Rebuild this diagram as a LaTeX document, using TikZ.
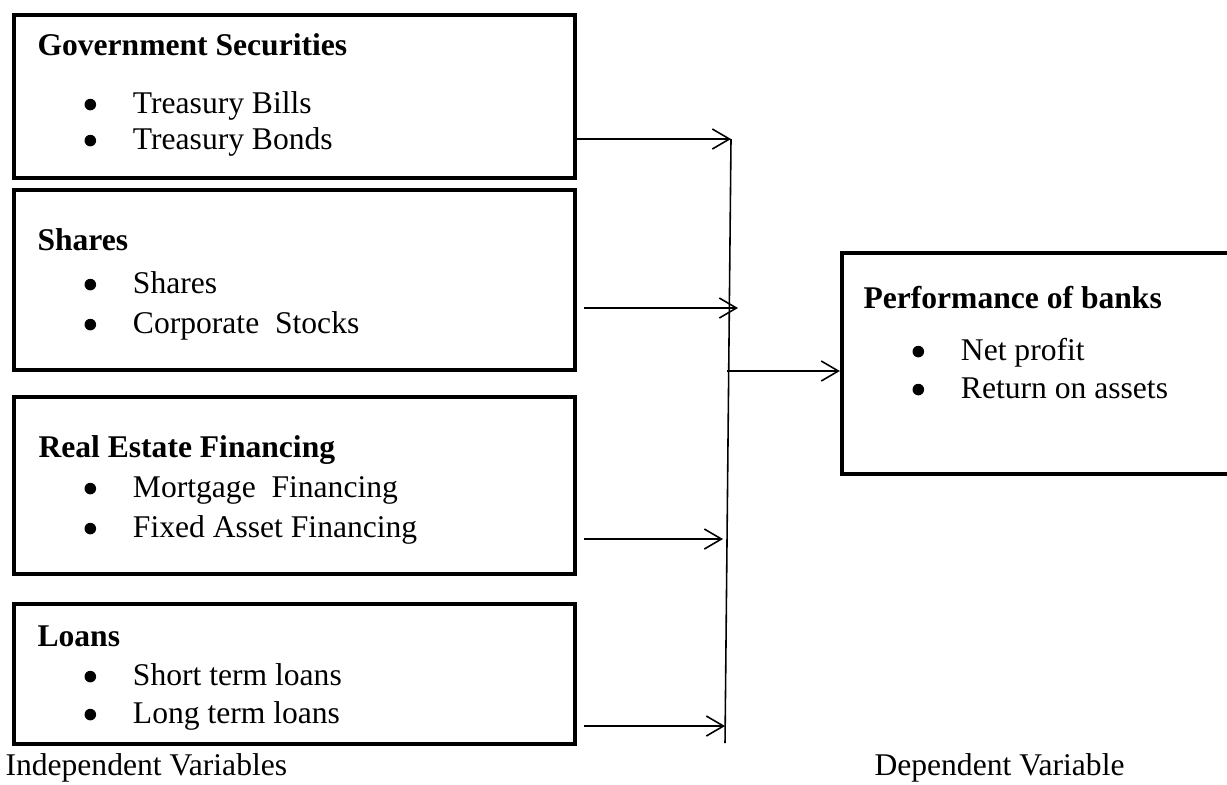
\documentclass[tikz,border=0pt]{standalone}
\usepackage{fontspec}
\setmainfont{Liberation Serif}
\usetikzlibrary{arrows.meta,fit}

\tikzset{
  varbox/.style={draw, line width=1.6pt, inner sep=0pt},
  vhead/.style={anchor=base west, inner sep=0pt, font=\fontsize{12}{14}\selectfont\bfseries},
  ventry/.style={anchor=base west, inner sep=0pt, font=\fontsize{12}{14}\selectfont},
  link/.style={line width=0.6pt, -{Straight Barb[length=6.5pt,width=7.6pt]}},
}
\newcommand{\itm}[1]{\makebox[18.4pt][l]{\raisebox{1pt}{\tikz\fill (0,0) circle (2.2pt);}}#1}

\begin{document}
\begin{tikzpicture}[x=0.01335cm, y=0.01335cm]
\useasboundingbox (0,0) rectangle (1227,-784);
\clip (0,0) rectangle (1227,-784);

% independent variables
\node[varbox, fit={(14,-15) (575,-178)}] (gov) {};
\node[vhead] (govh) at (37,-55) {Government Securities};
\node[ventry] (gov1) at (84,-113) {\itm{Treasury Bills}};
\node[ventry] (gov2) at (84,-149) {\itm{Treasury Bonds}};

\node[varbox, fit={(14,-190) (575,-370)}] (shr) {};
\node[vhead] (shrh) at (37,-250) {Shares};
\node[ventry] (shr1) at (84,-293) {\itm{Shares}};
\node[ventry] (shr2) at (84,-333) {\itm{Corporate\ \ Stocks}};

\node[varbox, fit={(14,-397) (575,-574)}] (rea) {};
\node[vhead] (reah) at (38,-457) {Real Estate Financing};
\node[ventry] (rea1) at (84,-497) {\itm{Mortgage\ \ Financing}};
\node[ventry] (rea2) at (84,-537) {\itm{Fixed Asset Financing}};

\node[varbox, fit={(14,-604) (575,-744)}] (lns) {};
\node[vhead] (lnsh) at (37,-646) {Loans};
\node[ventry] (lns1) at (84,-685) {\itm{Short term loans}};
\node[ventry] (lns2) at (84,-723) {\itm{Long term loans}};

% dependent variable
\node[varbox, fit={(842,-253) (1240,-474)}] (perf) {};
\node[vhead] (perfh) at (863,-308) {Performance of banks};
\node[ventry] (perf1) at (912,-360) {\itm{Net profit}};
\node[ventry] (perf2) at (912,-398) {\itm{Return on assets}};

\node[ventry] (indep) at (5,-775) {Independent Variables};
\node[ventry] (dep) at (874,-775) {Dependent Variable};

% connectors
\coordinate (s1) at (731,-139);
\coordinate (s2) at (738,-308);
\coordinate (s3) at (723,-539);
\coordinate (s4) at (725,-726);
\coordinate (sj) at (727,-371);
\coordinate (sb) at (725,-743);
\draw[line width=0.6pt] (s1) -- (sb);
\draw[link] (gov.east |- s1) -- (s1);
\draw[link, shorten <=2.7pt] (shr.east |- s2) -- (s2);
\draw[link, shorten <=2.7pt] (rea.east |- s3) -- (s3);
\draw[link, shorten <=2.7pt] (lns.east |- s4) -- (s4);
\draw[link] (sj) -- (perf.west |- sj);
\end{tikzpicture}
\end{document}
